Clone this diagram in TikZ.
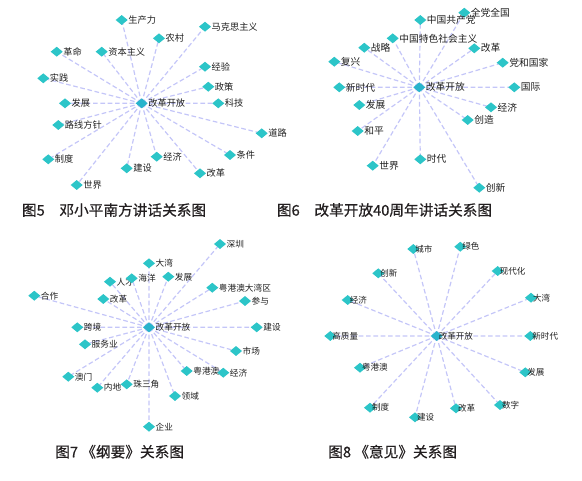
\documentclass[tikz,border=0pt]{standalone}
\usepackage{fontspec}
\usetikzlibrary{shapes.geometric,backgrounds}
\newfontfamily\cjk{Noto Sans CJK SC}
\newfontfamily\cjkcap[FakeBold=0.7]{Noto Sans CJK SC}
\definecolor{GRTeal}{HTML}{2CC5C8}
\definecolor{GRHub}{HTML}{29B4CC}
\definecolor{GRLink}{HTML}{C4C6F8}
\definecolor{GRInk}{HTML}{1E1E1E}
\definecolor{GRCap}{HTML}{231F20}
\tikzset{
  kw/.style={diamond,fill=GRTeal,minimum width=9.2pt,minimum height=7.6pt,inner sep=0pt,
             label distance=-2.3pt,label={[kwtext]east:#1}},
  hub/.style={kw=#1,fill=GRHub},
  kwtext/.style={text=GRInk,font=\cjk\fontsize{7}{8}\selectfont,inner sep=0pt},
  link/.style={GRLink,line width=0.9pt,dash pattern=on 3.5pt off 2pt},
  caption/.style={text=GRCap,font=\cjkcap\fontsize{11}{13}\selectfont,anchor=west,inner sep=0pt},
}
\begin{document}
\begin{tikzpicture}[x=0.75pt,y=-0.75pt]
  \useasboundingbox (0,0) rectangle (582,480);

  % 图5
  \begin{scope}[kwtext/.append style={font=\cjk\fontsize{6.9}{8}\selectfont}]
    \node[hub=改革开放] (ha) at (141.7,103.3) {};
    \node[kw=生产力] (a1) at (121.7,20) {};
    \node[kw=马克思主义] (a2) at (205,26.7) {};
    \node[kw=农村] (a3) at (159,38.3) {};
    \node[kw=革命] (a4) at (56.7,51.7) {};
    \node[kw=资本主义] (a5) at (101.7,51.7) {};
    \node[kw=经验] (a6) at (205,66.7) {};
    \node[kw=实践] (a7) at (43.3,78.3) {};
    \node[kw=政策] (a8) at (208.3,86.7) {};
    \node[kw=发展] (a9) at (65,103.3) {};
    \node[kw=科技] (a10) at (218.3,103.3) {};
    \node[kw=路线方针] (a11) at (58.3,125) {};
    \node[kw=道路] (a12) at (261.7,133.3) {};
    \node[kw=制度] (a13) at (48.3,159.3) {};
    \node[kw=经济] (a14) at (156.7,156.7) {};
    \node[kw=条件] (a15) at (230,155) {};
    \node[kw=建设] (a16) at (126.7,168.3) {};
    \node[kw=改革] (a17) at (200,173.3) {};
    \node[kw=世界] (a18) at (76.7,185) {};
  \end{scope}
  \begin{scope}[on background layer]
    \draw[link] (ha.center)--(a1.center) (ha.center)--(a2.center) (ha.center)--(a3.center)
      (ha.center)--(a4.center) (ha.center)--(a5.center) (ha.center)--(a6.center)
      (ha.center)--(a7.center) (ha.center)--(a8.center) (ha.center)--(a9.center)
      (ha.center)--(a10.center) (ha.center)--(a11.center) (ha.center)--(a12.center)
      (ha.center)--(a13.center) (ha.center)--(a14.center) (ha.center)--(a15.center)
      (ha.center)--(a16.center) (ha.center)--(a17.center) (ha.center)--(a18.center);
  \end{scope}
  \node[caption] (capa) at (21.7,210) {图5\quad 邓小平南方讲话关系图};

  % 图6
  \begin{scope}[kwtext/.append style={font=\cjk\fontsize{7.3}{8.5}\selectfont}]
    \node[hub=改革开放] (hb) at (419.3,87.3) {};
    \node[kw=全党全国] (b1) at (464.3,12.7) {};
    \node[kw=中国共产党] (b2) at (420.3,20) {};
    \node[kw=中国特色社会主义] (b3) at (392.7,38.3) {};
    \node[kw=战略] (b4) at (364.3,47.7) {};
    \node[kw=改革] (b5) at (474.3,48.3) {};
    \node[kw=复兴] (b6) at (334.3,61.7) {};
    \node[kw=党和国家] (b7) at (502.7,62.7) {};
    \node[kw=新时代] (b8) at (339.3,87.3) {};
    \node[kw=国际] (b9) at (514.3,87.3) {};
    \node[kw=发展] (b10) at (359.3,105) {};
    \node[kw=经济] (b11) at (491,107.3) {};
    \node[kw=创造] (b12) at (467.7,120) {};
    \node[kw=和平] (b13) at (357.7,131) {};
    \node[kw=时代] (b14) at (420.3,159.3) {};
    \node[kw=世界] (b15) at (372.7,165.7) {};
    \node[kw=创新] (b16) at (479.3,187.7) {};
  \end{scope}
  \begin{scope}[on background layer]
    \draw[link] (hb.center)--(b1.center) (hb.center)--(b2.center) (hb.center)--(b3.center)
      (hb.center)--(b4.center) (hb.center)--(b5.center) (hb.center)--(b6.center)
      (hb.center)--(b7.center) (hb.center)--(b8.center) (hb.center)--(b9.center)
      (hb.center)--(b10.center) (hb.center)--(b11.center) (hb.center)--(b12.center)
      (hb.center)--(b13.center) (hb.center)--(b14.center) (hb.center)--(b15.center)
      (hb.center)--(b16.center);
  \end{scope}
  \node[caption] (capb) at (276.7,210) {图6\quad 改革开放40周年讲话关系图};

  % 图7
  \begin{scope}[kwtext/.append style={font=\cjk\fontsize{6.5}{7.5}\selectfont}]
    \node[hub=改革开放] (hc) at (149,327.3) {};
    \node[kw=深圳] (c1) at (220,244) {};
    \node[kw=大湾] (c2) at (149,263.3) {};
    \node[kw=人才] (c3) at (110,281.7) {};
    \node[kw=海洋] (c4) at (131.7,278.3) {};
    \node[kw=发展] (c5) at (168.3,276.7) {};
    \node[kw=粤港澳大湾区] (c6) at (212.3,287.7) {};
    \node[kw=合作] (c7) at (34.3,295.7) {};
    \node[kw=改革] (c8) at (103.3,299) {};
    \node[kw=参与] (c9) at (245,301) {};
    \node[kw=跨境] (c10) at (77.3,327.3) {};
    \node[kw=建设] (c11) at (256.7,327.3) {};
    \node[kw=服务业] (c12) at (85,344.3) {};
    \node[kw=市场] (c13) at (236,351) {};
    \node[kw=粤港澳] (c14) at (186.7,371) {};
    \node[kw=经济] (c15) at (223.3,372.7) {};
    \node[kw=澳门] (c16) at (68.3,376.7) {};
    \node[kw=内地] (c17) at (97.3,387.7) {};
    \node[kw=珠三角] (c18) at (126.7,384.3) {};
    \node[kw=领域] (c19) at (175,396) {};
    \node[kw=企业] (c20) at (149,426.7) {};
  \end{scope}
  \begin{scope}[on background layer]
    \draw[link] (hc.center)--(c1.center) (hc.center)--(c2.center) (hc.center)--(c3.center)
      (hc.center)--(c4.center) (hc.center)--(c5.center) (hc.center)--(c6.center)
      (hc.center)--(c7.center) (hc.center)--(c8.center) (hc.center)--(c9.center)
      (hc.center)--(c10.center) (hc.center)--(c11.center) (hc.center)--(c12.center)
      (hc.center)--(c13.center) (hc.center)--(c14.center) (hc.center)--(c15.center)
      (hc.center)--(c16.center) (hc.center)--(c17.center) (hc.center)--(c18.center)
      (hc.center)--(c19.center) (hc.center)--(c20.center);
  \end{scope}
  \node[caption] (capc) at (55,451.7) {图7 《纲要》关系图};

  % 图8
  \begin{scope}[kwtext/.append style={font=\cjk\fontsize{6.4}{7.5}\selectfont},
                label distance=-3.4pt]
    \node[hub=改革开放] (hd) at (436.7,336) {};
    \node[kw=城市] (d1) at (413.3,249) {};
    \node[kw=绿色] (d2) at (460.3,246.7) {};
    \node[kw=创新] (d3) at (378.3,273.3) {};
    \node[kw=现代化] (d4) at (497.7,271) {};
    \node[kw=经济] (d5) at (347.7,300) {};
    \node[kw=大湾] (d6) at (531,297.7) {};
    \node[kw=高质量] (d7) at (330.3,336) {};
    \node[kw=新时代] (d8) at (530.3,336) {};
    \node[kw=粤港澳] (d9) at (360,367.7) {};
    \node[kw=发展] (d10) at (525.3,372.3) {};
    \node[kw=制度] (d11) at (370,407.7) {};
    \node[kw=数字] (d12) at (500,405) {};
    \node[kw=改革] (d13) at (456,408.3) {};
    \node[kw=建设] (d14) at (415,417.3) {};
  \end{scope}
  \begin{scope}[on background layer]
    \draw[link] (hd.center)--(d1.center) (hd.center)--(d2.center) (hd.center)--(d3.center)
      (hd.center)--(d4.center) (hd.center)--(d5.center) (hd.center)--(d6.center)
      (hd.center)--(d7.center) (hd.center)--(d8.center) (hd.center)--(d9.center)
      (hd.center)--(d10.center) (hd.center)--(d11.center) (hd.center)--(d12.center)
      (hd.center)--(d13.center) (hd.center)--(d14.center);
  \end{scope}
  \node[caption] (capd) at (328,451.7) {图8 《意见》关系图};
\end{tikzpicture}
\end{document}
